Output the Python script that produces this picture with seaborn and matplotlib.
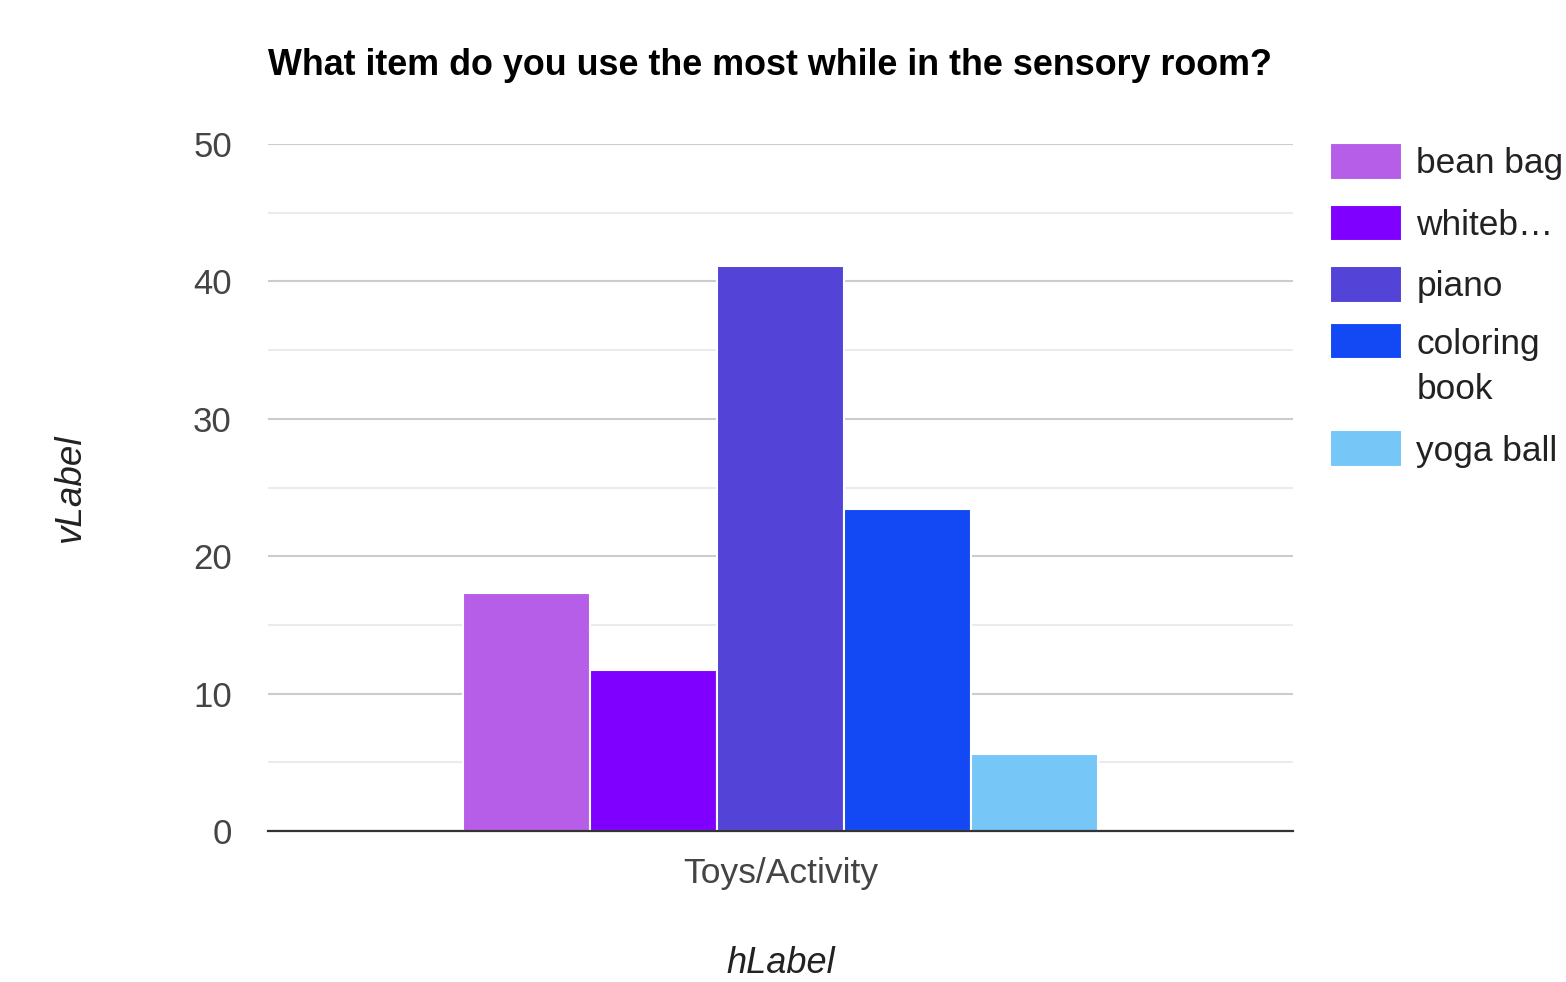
import matplotlib
matplotlib.use("Agg")
import matplotlib.pyplot as plt
import seaborn as sns
import pandas as pd
from matplotlib.ticker import MultipleLocator

# ---- data ----
category = "Toys/Activity"
items = ["bean bag", "whiteboard", "piano", "coloring book", "yoga ball"]
values = [17.3, 11.7, 41.1, 23.4, 5.6]
legend_labels = ["bean bag", "whiteb\u2026", "piano", "coloring\nbook", "yoga ball"]
colors = ["#B75EE8", "#8000FF", "#5343D6", "#1349F5", "#76C7F8"]
title = "What item do you use the most while in the sensory room?"
y_ticks = [0, 10, 20, 30, 40, 50]

df = pd.DataFrame({"group": [category] * len(items), "item": items, "value": values})

sns.set_theme(style="white")
plt.rcParams["font.family"] = ["Liberation Sans", "DejaVu Sans"]

fig = plt.figure(figsize=(15.66, 9.82), dpi=100)
ax = fig.add_axes([268 / 1566, 1 - 831 / 982, (1293 - 268) / 1566, (831 - 144) / 982])

sns.barplot(data=df, x="group", y="value", hue="item", hue_order=items,
            palette=dict(zip(items, colors)), width=0.62, saturation=1,
            edgecolor="white", linewidth=1.5, ax=ax, legend=True, zorder=3)

ax.set_xlim(-0.5, 0.5)
ax.set_ylim(0, 50)
ax.set_yticks(y_ticks)
ax.yaxis.set_minor_locator(MultipleLocator(5))
ax.grid(axis="y", which="major", color="#cccccc", linewidth=1.5, zorder=0)
ax.grid(axis="y", which="minor", color="#ebebeb", linewidth=1.5, zorder=0)
ax.set_axisbelow(True)
for s in ["top", "right", "left"]:
    ax.spines[s].set_visible(False)
ax.spines["bottom"].set_color("#333333")
ax.spines["bottom"].set_linewidth(1.6)
ax.spines["bottom"].set_zorder(5)

ax.tick_params(axis="both", which="both", length=0, labelsize=25, labelcolor="#444444")
ax.tick_params(axis="y", pad=26)
ax.tick_params(axis="x", pad=19)
for t in ax.get_xticklabels():
    t.set_fontsize(25.5)

ax.set_xlabel("hLabel", fontsize=26, fontstyle="italic", color="#222222", labelpad=40)
ax.set_ylabel("vLabel", fontsize=26.5, fontstyle="italic", color="#222222", labelpad=76)
ax.set_title(title, loc="left", fontsize=25.8, fontweight="bold", color="#000000", pad=50)

handles, _ = ax.get_legend_handles_labels()
leg = ax.legend(handles, legend_labels, loc="upper left",
                bbox_to_anchor=(1330 / 1566, 1 - 143 / 982), bbox_transform=fig.transFigure,
                frameon=False, fontsize=25.4, handlelength=2.05, handleheight=1.22,
                handletextpad=0.4, labelspacing=0.69, borderpad=0, borderaxespad=0)
for t in leg.get_texts():
    t.set_color("#222222")
    t.set_linespacing(1.48)
# align the handle of the two-line entry with its first line
p = leg.get_patches()[3]
p.set_y(p.get_y() + 19.4)

fig.savefig("out.png", dpi=100, facecolor="white")
